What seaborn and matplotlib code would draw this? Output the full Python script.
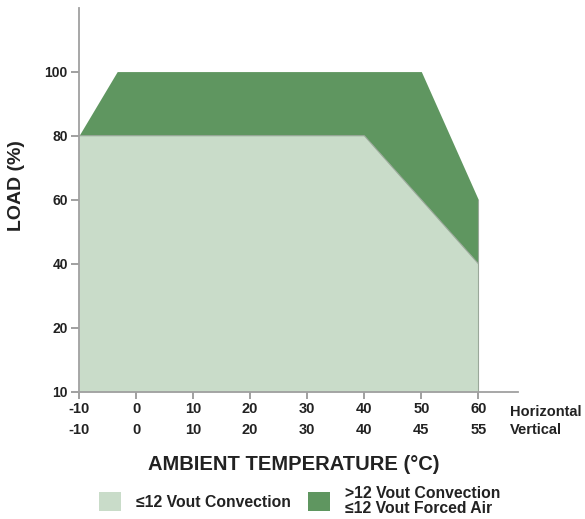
import matplotlib
matplotlib.use("Agg")
import matplotlib.pyplot as plt
import seaborn as sns
import pandas as pd
from matplotlib.patches import Patch
from matplotlib.transforms import blended_transform_factory

# ---- data ----
temp = [-10, -3.3, 40, 50, 60]
load_low = [80, 80, 80, 60, 40]      # <=12 Vout convection
load_high = [80, 100, 100, 100, 60]  # >12 Vout convection / <=12 Vout forced air
xtick_pos = [-10, 0, 10, 20, 30, 40, 50, 60]
xtick_horizontal = ["-10", "0", "10", "20", "30", "40", "50", "60"]
xtick_vertical = ["-10", "0", "10", "20", "30", "40", "45", "55"]
ytick_pos = [0, 20, 40, 60, 80, 100]
ytick_labels = ["10", "20", "40", "60", "80", "100"]
legend_labels = ["\u226412 Vout Convection", ">12 Vout Convection\n\u226412 Vout Forced Air"]

LIGHT = "#c9dcc9"
DARK = "#5f9660"
AXC = "#a0a0a0"
TXT = "#222222"

sns.set_style("ticks")
plt.rcParams["font.family"] = ["Liberation Sans", "DejaVu Sans"]
plt.rcParams["font.weight"] = "bold"

df = pd.DataFrame({"temp": temp, "low": load_low, "high": load_high})

fig = plt.figure(figsize=(5.85, 5.19), dpi=100)
ax = fig.add_axes([0.135, 0.245, 0.751, 0.7405])

ax.fill_between(df["temp"], 0, df["low"], color=LIGHT, lw=0, zorder=1)
ax.fill_between(df["temp"], df["low"], df["high"], color=DARK, lw=0, zorder=1)
sns.lineplot(data=df, x="temp", y="low", ax=ax, color="#9aa89a", lw=0.8, zorder=2, sort=False)
ax.plot([60, 60], [0, 60], color="#9aa89a", lw=0.8, zorder=2)

ax.set_xlim(-10, 67)
ax.set_ylim(0, 120)

for s in ["top", "right"]:
    ax.spines[s].set_visible(False)
for s in ["left", "bottom"]:
    ax.spines[s].set_color(AXC)
    ax.spines[s].set_linewidth(1.3)
    ax.spines[s].set_zorder(3)

ax.set_xticks(xtick_pos)
ax.set_xticklabels(xtick_horizontal, fontsize=10.5, fontweight="bold", color=TXT)
ax.set_yticks(ytick_pos)
ax.set_yticklabels(ytick_labels, fontsize=10, fontweight="bold", color=TXT)
ax.tick_params(axis="x", which="major", bottom=True, top=False, direction="out", length=5,
               width=1.4, color=AXC, labelcolor=TXT, pad=2)
ax.tick_params(axis="y", which="major", left=True, right=False, direction="out", length=6,
               width=1.4, color=AXC, labelcolor=TXT, pad=2)
ax.xaxis.set_zorder(4)
ax.yaxis.set_zorder(4)
for tk in ax.xaxis.get_major_ticks() + ax.yaxis.get_major_ticks():
    tk.tick1line.set_visible(True)
    tk.tick1line.set_color(AXC)
    tk.tick1line.set_markeredgecolor(AXC)

trans = blended_transform_factory(ax.transData, ax.transAxes)
y_row2 = -0.098
for xp, lab in zip(xtick_pos, xtick_vertical):
    ax.text(xp, y_row2, lab, transform=trans, ha="center", va="center",
            fontsize=10.5, fontweight="bold", color=TXT)
ax.text(65.5, -0.052, "Horizontal", transform=trans, ha="left", va="center",
        fontsize=10.5, fontweight="bold", color=TXT)
ax.text(65.5, y_row2, "Vertical", transform=trans, ha="left", va="center",
        fontsize=10.5, fontweight="bold", color=TXT)

ax.set_xlabel("")
ax.set_ylabel("")
fig.text(294 / 585, 1 - 464 / 519, "AMBIENT TEMPERATURE (\u00b0C)", ha="center", va="center",
         fontsize=14.5, fontweight="bold", color=TXT)
fig.text(17 / 585, 1 - 186 / 519, "LOAD (%)", ha="center", va="center", rotation=90,
         fontsize=14, fontweight="bold", color=TXT)

handles = [Patch(facecolor=LIGHT, edgecolor="none"), Patch(facecolor=DARK, edgecolor="none")]
leg = fig.legend(handles, legend_labels, loc="center", bbox_to_anchor=(300 / 585, 1 - 501 / 519),
                 ncol=2, frameon=False, fontsize=11.3, handlelength=1.4, handleheight=1.5,
                 handletextpad=0.95, columnspacing=1.1, labelcolor=TXT)
for t in leg.get_texts():
    t.set_linespacing(1.0)

fig.savefig("out.png", dpi=100)
